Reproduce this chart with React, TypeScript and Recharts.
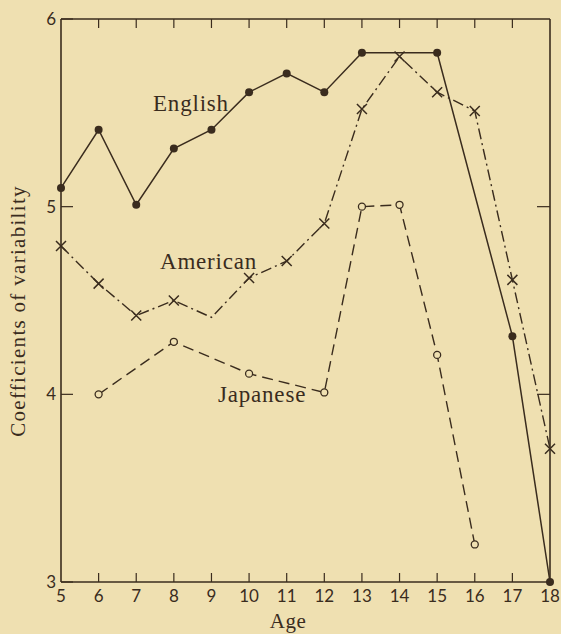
import { LineChart, Line, XAxis, YAxis } from 'recharts';

const ages = [5, 6, 7, 8, 9, 10, 11, 12, 13, 14, 15, 16, 17, 18];
const english = [5.1, 5.41, 5.01, 5.31, 5.41, 5.61, 5.71, 5.61, 5.82, null, 5.82, null, 4.31, 3.0];
const american = [4.79, 4.59, 4.42, 4.5, 4.41, 4.62, 4.71, 4.91, 5.52, 5.8, 5.61, 5.51, 4.61, 3.71];
const japanese = [null, 4.0, null, 4.28, null, 4.11, null, 4.01, 5.0, 5.01, 4.21, 3.2, null, null];
const americanUnmarked = [9];
const yTicks = [3, 4, 5, 6];
const rightTicks = [4, 5];

const rows = ages.map((age, i) => ({
  age,
  english: english[i],
  american: american[i],
  japanese: japanese[i],
}));

const ink = '#3a2c1e';
const paper = '#efe0b1';
const serif = '"Liberation Serif", "Times New Roman", serif';
const digits = 'Lato, "DejaVu Sans", sans-serif';

const BottomTick = (props: any) => {
  const { x, y, payload } = props;
  const edge = payload.value === 5 || payload.value === 18;
  return (
    <g>
      {!edge && <line x1={x} y1={y} x2={x} y2={y - 9} stroke={ink} strokeWidth={1.2} />}
      <text x={x} y={y + 20} textAnchor='middle' fill={ink} fontFamily={digits} fontSize={17}>
        {payload.value}
      </text>
    </g>
  );
};

const TopTick = (props: any) => {
  const { x, y, payload } = props;
  if (payload.value === 5 || payload.value === 18) return <g />;
  return <line x1={x} y1={y} x2={x} y2={y + 9} stroke={ink} strokeWidth={1.2} />;
};

const LeftTick = (props: any) => {
  const { x, y, payload } = props;
  return (
    <g>
      <line x1={x} y1={y} x2={x + 12} y2={y} stroke={ink} strokeWidth={1.2} />
      <text x={x - 5} y={y + 6} textAnchor='end' fill={ink} fontFamily={digits} fontSize={17}>
        {payload.value}
      </text>
    </g>
  );
};

const RightTick = (props: any) => {
  const { x, y, payload } = props;
  if (!rightTicks.includes(payload.value)) return <g />;
  return <line x1={x} y1={y} x2={x - 13} y2={y} stroke={ink} strokeWidth={1.2} />;
};

const FilledDot = (p: any) => {
  if (p.cx == null || p.cy == null || p.payload.english == null) return <g key={p.index} />;
  return <circle key={p.index} cx={p.cx} cy={p.cy} r={4} fill={ink} />;
};

const CrossDot = (p: any) => {
  if (p.cx == null || p.cy == null || americanUnmarked.includes(p.payload.age)) return <g key={p.index} />;
  const s = 5;
  return (
    <path
      key={p.index}
      d={`M${p.cx - s},${p.cy - s}L${p.cx + s},${p.cy + s}M${p.cx - s},${p.cy + s}L${p.cx + s},${p.cy - s}`}
      stroke={ink}
      strokeWidth={1.5}
      fill='none'
    />
  );
};

const OpenDot = (p: any) => {
  if (p.cx == null || p.cy == null || p.payload.japanese == null) return <g key={p.index} />;
  return <circle key={p.index} cx={p.cx} cy={p.cy} r={3.5} fill={paper} stroke={ink} strokeWidth={1.3} />;
};

const labelStyle = {
  position: 'absolute' as const,
  fontFamily: serif,
  fontSize: 23,
  letterSpacing: 0.8,
  lineHeight: 1,
  color: ink,
  whiteSpace: 'nowrap' as const,
};

const App = () => {
  return (
    <div style={{ position: 'fixed', left: 0, top: 0, width: 561, height: 634, background: paper }}>
      <LineChart width={561} height={634} data={rows} margin={{ top: 18, right: 10, bottom: 0, left: 0 }}>
        <XAxis
          dataKey='age'
          type='number'
          domain={[5, 18]}
          ticks={ages}
          height={52}
          tickSize={0}
          tickMargin={0}
          tick={<BottomTick />}
          axisLine={{ stroke: ink, strokeWidth: 1.6 }}
        />
        <XAxis
          xAxisId='top'
          dataKey='age'
          type='number'
          orientation='top'
          domain={[5, 18]}
          ticks={ages}
          height={1}
          tickSize={0}
          tickMargin={0}
          tick={<TopTick />}
          axisLine={{ stroke: ink, strokeWidth: 1.6 }}
        />
        <YAxis
          type='number'
          domain={[3, 6]}
          ticks={yTicks}
          width={61}
          tickSize={0}
          tickMargin={0}
          tick={<LeftTick />}
          axisLine={{ stroke: ink, strokeWidth: 1.6 }}
        />
        <YAxis
          yAxisId='r'
          type='number'
          orientation='right'
          domain={[3, 6]}
          ticks={yTicks}
          width={1}
          tickSize={0}
          tickMargin={0}
          tick={<RightTick />}
          axisLine={{ stroke: ink, strokeWidth: 1.6 }}
        />
        <Line
          xAxisId='top'
          yAxisId='r'
          dataKey='american'
          stroke='none'
          dot={false}
          activeDot={false}
          isAnimationActive={false}
        />
        <Line
          dataKey='japanese'
          stroke={ink}
          strokeWidth={1.4}
          strokeDasharray='11 6'
          connectNulls
          dot={OpenDot}
          isAnimationActive={false}
        />
        <Line
          dataKey='american'
          stroke={ink}
          strokeWidth={1.4}
          strokeDasharray='11 4 2 4'
          connectNulls
          dot={CrossDot}
          isAnimationActive={false}
        />
        <Line
          dataKey='english'
          stroke={ink}
          strokeWidth={1.5}
          connectNulls
          dot={FilledDot}
          isAnimationActive={false}
        />
      </LineChart>
      <div style={{ ...labelStyle, left: 153, top: 92 }}>English</div>
      <div style={{ ...labelStyle, left: 160, top: 250 }}>American</div>
      <div style={{ ...labelStyle, left: 218, top: 383 }}>Japanese</div>
      <div style={{ ...labelStyle, fontSize: 21, letterSpacing: 0.5, left: 288, top: 611, transform: 'translateX(-50%)' }}>
        Age
      </div>
      <div
        style={{
          ...labelStyle,
          fontSize: 21,
          letterSpacing: 1.3,
          left: 18,
          top: 311,
          transform: 'translate(-50%, -50%) rotate(-90deg)',
        }}
      >
        Coefficients of variability
      </div>
    </div>
  );
};

export default App;
